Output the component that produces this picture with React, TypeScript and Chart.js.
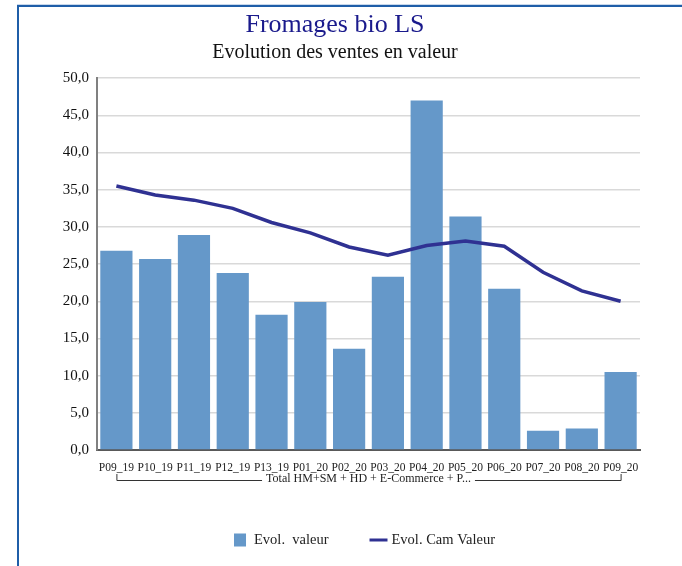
import React, { useEffect, useRef } from "react";
import { Chart, registerables } from "chart.js";

Chart.register(...registerables);

const titleText = "Fromages bio LS";
const subtitleText = "Evolution des ventes en valeur";
const categories = ["P09_19", "P10_19", "P11_19", "P12_19", "P13_19", "P01_20", "P02_20", "P03_20", "P04_20", "P05_20", "P06_20", "P07_20", "P08_20", "P09_20"];
const groupLabel = "Total HM+SM + HD + E-Commerce + P...";
const barName = "Evol.  valeur";
const lineName = "Evol. Cam Valeur";
const evolValeur = [26.8, 25.7, 28.9, 23.8, 18.2, 19.9, 13.6, 23.3, 47.0, 31.4, 21.7, 2.6, 2.9, 10.5];
const evolCamValeur = [35.5, 34.3, 33.6, 32.5, 30.6, 29.2, 27.3, 26.2, 27.5, 28.1, 27.4, 23.9, 21.4, 20.0];
const yMin = 0;
const yMax = 50;
const yStep = 5;

const FONT = "'Liberation Serif', 'Times New Roman', serif";
const BAR_COLOR = "#6598c9";
const LINE_COLOR = "#2f3192";

const extrasPlugin = {
  id: "extras",
  afterDraw(chart: any) {
    const ctx = chart.ctx;
    const x = chart.scales.x;
    const area = chart.chartArea;
    ctx.save();
    // group bracket
    const x0 = x.getPixelForValue(0);
    const x1 = x.getPixelForValue(categories.length - 1);
    const yLine = area.bottom + 30.5;
    const yTop = area.bottom + 24;
    ctx.font = `12px ${FONT}`;
    const tw = ctx.measureText(groupLabel).width;
    const cx = (x0 + x1) / 2;
    ctx.strokeStyle = "#333";
    ctx.lineWidth = 1;
    ctx.beginPath();
    ctx.moveTo(x0 + 0.5, yTop);
    ctx.lineTo(x0 + 0.5, yLine);
    ctx.lineTo(cx - tw / 2 - 4, yLine);
    ctx.moveTo(cx + tw / 2 + 4, yLine);
    ctx.lineTo(x1 + 0.5, yLine);
    ctx.lineTo(x1 + 0.5, yTop);
    ctx.stroke();
    ctx.fillStyle = "#222";
    ctx.textAlign = "center";
    ctx.textBaseline = "middle";
    ctx.fillText(groupLabel, cx, yLine - 2);

    // legend
    ctx.font = `14.5px ${FONT}`;
    const w1 = ctx.measureText(barName).width;
    const w2 = ctx.measureText(lineName).width;
    const total = 12 + 8 + w1 + 41 + 18 + 4 + w2;
    const ly = 540;
    let lx = (area.left + area.right) / 2 - 4 - total / 2;
    ctx.fillStyle = BAR_COLOR;
    ctx.fillRect(lx, ly - 6.5, 12, 13);
    lx += 12 + 8;
    ctx.fillStyle = "#222";
    ctx.textAlign = "left";
    ctx.fillText(barName, lx, ly);
    lx += w1 + 41;
    ctx.strokeStyle = LINE_COLOR;
    ctx.lineWidth = 3;
    ctx.beginPath();
    ctx.moveTo(lx, ly);
    ctx.lineTo(lx + 18, ly);
    ctx.stroke();
    lx += 18 + 4;
    ctx.fillText(lineName, lx, ly);
    ctx.restore();
  },
};

export default function App() {
  const ref = useRef<HTMLCanvasElement | null>(null);

  useEffect(() => {
    if (!ref.current) return;
    const chart = new Chart(ref.current, {
      type: "bar",
      data: {
        labels: categories,
        datasets: [
          {
            type: "line",
            label: lineName,
            data: evolCamValeur,
            borderColor: LINE_COLOR,
            backgroundColor: LINE_COLOR,
            borderWidth: 3.5,
            pointRadius: 0,
            tension: 0,
            order: 0,
          } as any,
          {
            type: "bar",
            label: barName,
            data: evolValeur,
            backgroundColor: BAR_COLOR,
            categoryPercentage: 1,
            barPercentage: 0.83,
            order: 1,
          },
        ],
      },
      options: {
        animation: false,
        responsive: false,
        maintainAspectRatio: false,
        layout: { padding: { left: 30, right: 42, top: 0, bottom: 0 } },
        plugins: {
          legend: { display: false },
          tooltip: { enabled: false },
          title: {
            display: true,
            text: titleText,
            color: "#1a1a8c",
            font: { family: FONT, size: 26, weight: "normal" },
            padding: { top: 10, bottom: 0 },
          },
          subtitle: {
            display: true,
            text: subtitleText,
            color: "#111",
            font: { family: FONT, size: 20, weight: "normal" },
            padding: { top: 0, bottom: 13 },
          },
        },
        scales: {
          x: {
            grid: { display: false },
            border: { display: true, color: "#595959", width: 2 },
            ticks: {
              color: "#222",
              font: { family: FONT, size: 11.5 },
              autoSkip: false,
              maxRotation: 0,
              minRotation: 0,
              padding: 3,
            },
            afterFit(scale: any) {
              scale.height = 116;
            },
          },
          y: {
            min: yMin,
            max: yMax,
            grid: { color: "#d9d9d9", lineWidth: 1.5, drawTicks: false },
            border: { display: true, color: "#808080", width: 2 },
            ticks: {
              stepSize: yStep,
              color: "#111",
              font: { family: FONT, size: 15 },
              padding: 8,
              callback: (v: any) => Number(v).toFixed(1).replace(".", ","),
            },
            afterFit(scale: any) {
              scale.width = 67;
            },
          },
        },
      },
      plugins: [extrasPlugin],
    });
    return () => chart.destroy();
  }, []);

  return (
    <div style={{ position: "fixed", left: 0, top: 0, width: 682, height: 566, overflow: "hidden", background: "#fff" }}>
      <div
        style={{
          position: "absolute",
          left: 17,
          top: 5,
          width: 720,
          height: 620,
          borderLeft: "2px solid #1f5ea8",
          borderTop: "2px solid #1f5ea8",
          boxShadow: "0 -1px 0 #c8d8ec",
        }}
      />
      <canvas ref={ref} width={682} height={566} style={{ position: "absolute", left: 0, top: 0, width: 682, height: 566 }} />
    </div>
  );
}
